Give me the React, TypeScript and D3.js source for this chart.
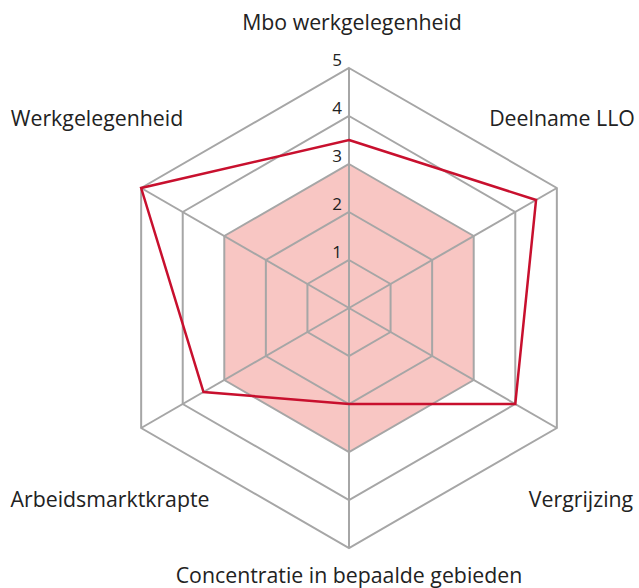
import * as d3 from 'd3';
import { useEffect, useRef } from 'react';

// Axes of the radar, clockwise from the top
const axes = [
  'Mbo werkgelegenheid',
  'Deelname LLO',
  'Vergrijzing',
  'Concentratie in bepaalde gebieden',
  'Arbeidsmarktkrapte',
  'Werkgelegenheid',
];
const regionValues = [3.5, 4.5, 4, 2, 3.5, 5];
const baselineValues = [3, 3, 3, 3, 3, 3];
const ticks = [1, 2, 3, 4, 5];

const App = () => {
  const ref = useRef<SVGSVGElement>(null);

  useEffect(() => {
    const width = 639;
    const height = 588;
    const cx = 349;
    const cy = 308;
    const radius = 240;

    const svg = d3.select(ref.current);
    svg.selectAll('*').remove();

    const r = d3.scaleLinear().domain([0, 5]).range([0, radius]);
    const angle = (i: number) => (i * 2 * Math.PI) / axes.length;
    const pt = (i: number, v: number): [number, number] => [
      cx + r(v) * Math.sin(angle(i)),
      cy - r(v) * Math.cos(angle(i)),
    ];

    const lineGen = d3.line<[number, number]>().curve(d3.curveLinearClosed);

    // Baseline fill (pink)
    svg.append('path')
      .attr('d', lineGen(baselineValues.map((v, i) => pt(i, v))))
      .attr('fill', '#f8c6c3')
      .attr('stroke', 'none');

    // Grid hexagons
    ticks.forEach((t) => {
      svg.append('path')
        .attr('d', lineGen(axes.map((_, i) => pt(i, t))))
        .attr('fill', 'none')
        .attr('stroke', '#a6a6a6')
        .attr('stroke-width', 2);
    });

    // Spokes
    axes.forEach((_, i) => {
      const [x, y] = pt(i, 5);
      svg.append('line')
        .attr('x1', cx)
        .attr('y1', cy)
        .attr('x2', x)
        .attr('y2', y)
        .attr('stroke', '#a6a6a6')
        .attr('stroke-width', 2);
    });

    // Region line (red)
    svg.append('path')
      .attr('d', lineGen(regionValues.map((v, i) => pt(i, v))))
      .attr('fill', 'none')
      .attr('stroke', '#c8102e')
      .attr('stroke-width', 2.5)
      .attr('stroke-linejoin', 'miter');

    // Tick labels along the top spoke
    ticks.forEach((t) => {
      svg.append('text')
        .attr('x', cx - 7)
        .attr('y', cy - r(t) - 2)
        .attr('text-anchor', 'end')
        .style('font-family', 'Open Sans')
        .style('font-size', '17px')
        .attr('fill', '#222')
        .text(t);
    });

    // Axis labels
    const labelPos: [number, number, string][] = [
      [352, 30, 'middle'],
      [562, 126, 'middle'],
      [581, 507, 'middle'],
      [349, 583, 'middle'],
      [110, 507, 'middle'],
      [97, 126, 'middle'],
    ];
    axes.forEach((a, i) => {
      const [x, y, anchor] = labelPos[i];
      svg.append('text')
        .attr('x', x)
        .attr('y', y)
        .attr('text-anchor', anchor)
        .style('font-family', 'Open Sans')
        .style('font-size', '21.3px')
        .attr('fill', '#222')
        .text(a);
    });

    svg.attr('width', width).attr('height', height);
  }, []);

  return (
    <svg
      ref={ref}
      width={639}
      height={588}
      style={{ position: 'absolute', left: 0, top: 0, background: '#fff' }}
    />
  );
};

export default App;
